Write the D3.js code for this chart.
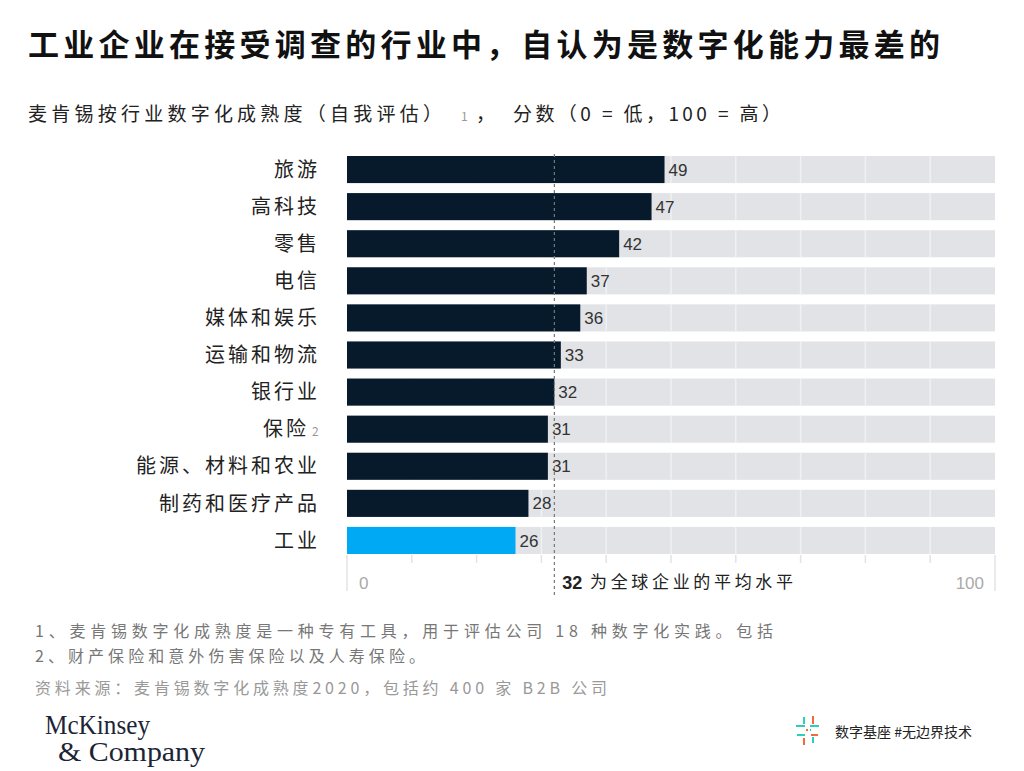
<!DOCTYPE html>
<html><head><meta charset="utf-8">
<script src="https://cdn.jsdelivr.net/npm/d3@7"></script>
<style>
body{margin:0;background:#fff;}
svg{display:block;font-family:"Noto Sans CJK SC","Noto Sans",sans-serif;}
</style></head>
<body><svg id="c" width="1024" height="771"></svg>
<script>
const categories = ["旅游","高科技","零售","电信","媒体和娱乐","运输和物流","银行业","保险","能源、材料和农业","制药和医疗产品","工业"];
const values = [49,47,42,37,36,33,32,31,31,28,26];
const highlight = "工业";
const average = 32;
const axisTicks = [0,100];
const gridTicks = [10,20,30,40,50,60,70,80,90];

const svg = d3.select("#c");
const x = d3.scaleLinear().domain([0,100]).range([347,995]);
const y = d3.scaleBand().domain(categories).range([151,559]).paddingInner(0.27).paddingOuter(0.135);

// Title
svg.append("text").attr("x",28).attr("y",56).attr("font-size",31).attr("font-weight",700).attr("fill","#111")
  .attr("textLength",912).attr("lengthAdjust","spacing")
  .text("工业企业在接受调查的行业中，自认为是数字化能力最差的");

// Subtitle
const st = svg.append("g").attr("font-size",19).attr("fill","#222");
st.append("text").attr("x",28).attr("y",121).attr("textLength",414).attr("lengthAdjust","spacing").text("麦肯锡按行业数字化成熟度（自我评估）");
st.append("text").attr("x",461).attr("y",121).attr("font-size",12).attr("fill","#999").text("1");
st.append("text").attr("x",476).attr("y",121).text("，");
st.append("text").attr("x",513).attr("y",121).attr("textLength",268).attr("lengthAdjust","spacing").text("分数（0 = 低，100 = 高）");

// background bars
svg.append("g").selectAll("rect").data(categories).join("rect")
  .attr("x",x(0)).attr("y",d=>y(d)).attr("width",x(100)-x(0)).attr("height",y.bandwidth())
  .attr("fill","#e1e3e6");

// white gridlines inside background bars
svg.append("g").selectAll("line").data(categories.flatMap(c=>gridTicks.map(t=>({c,t})))).join("line")
  .attr("x1",d=>x(d.t)).attr("x2",d=>x(d.t)).attr("y1",d=>y(d.c)).attr("y2",d=>y(d.c)+y.bandwidth())
  .attr("stroke","#f0f1f2").attr("stroke-width",1.5);

// axis ticks below
const axisTop = y(categories[categories.length-1])+y.bandwidth()+1;
svg.append("g").selectAll("line").data(gridTicks).join("line")
  .attr("x1",d=>x(d)).attr("x2",d=>x(d)).attr("y1",axisTop).attr("y2",axisTop+8)
  .attr("stroke","#e1e3e6").attr("stroke-width",1.5);
svg.append("g").selectAll("line").data(axisTicks).join("line")
  .attr("x1",d=>x(d)).attr("x2",d=>x(d)).attr("y1",axisTop).attr("y2",axisTop+36)
  .attr("stroke","#e1e3e6").attr("stroke-width",1.5);

// value bars
const rows = categories.map((c,i)=>({c,v:values[i]}));
svg.append("g").selectAll("rect").data(rows).join("rect")
  .attr("x",x(0)).attr("y",d=>y(d.c)).attr("width",d=>x(d.v)-x(0)).attr("height",y.bandwidth())
  .attr("fill",d=>d.c===highlight?"#00a9f4":"#061a2b");

// value labels
svg.append("g").selectAll("text").data(rows).join("text")
  .attr("x",d=>x(d.v)+4).attr("y",d=>y(d.c)+y.bandwidth()/2).attr("dy","0.36em")
  .attr("font-family","Liberation Sans, Arial, sans-serif").attr("font-size",17).attr("fill","#333")
  .text(d=>d.v);

// category labels
svg.append("g").selectAll("text").data(categories).join("text")
  .attr("x",d=>d==="保险"?309:320).attr("y",d=>y(d)+y.bandwidth()/2).attr("dy","0.36em")
  .attr("text-anchor","end").attr("font-size",20).attr("letter-spacing",3).attr("fill","#222")
  .text(d=>d);
svg.append("text").attr("x",312).attr("y",y("保险")+y.bandwidth()/2).attr("dy","0.6em")
  .attr("font-size",12).attr("fill","#999").text("2");

// average dashed line
svg.append("line").attr("x1",x(average)).attr("x2",x(average)).attr("y1",154).attr("y2",596)
  .attr("stroke","#777").attr("stroke-width",1.2).attr("stroke-dasharray","3,3");

// axis labels
svg.append("text").attr("x",x(0)+12).attr("y",589).attr("font-family","Liberation Sans, Arial, sans-serif")
  .attr("font-size",17).attr("fill","#aaa").text(axisTicks[0]);
svg.append("text").attr("x",x(100)-11).attr("y",589).attr("text-anchor","end").attr("font-family","Liberation Sans, Arial, sans-serif")
  .attr("font-size",17).attr("fill","#aaa").text(axisTicks[1]);
svg.append("text").attr("x",x(average)+8).attr("y",589).attr("font-family","Liberation Sans, Arial, sans-serif")
  .attr("font-size",18).attr("font-weight",700).attr("fill","#222").text(average);
svg.append("text").attr("x",590).attr("y",588).attr("font-size",17).attr("fill","#222")
  .attr("textLength",203).attr("lengthAdjust","spacing").text("为全球企业的平均水平");

// footnotes
const fn = svg.append("g").attr("font-size",16).attr("fill","#777");
fn.append("text").attr("x",35).attr("y",637).attr("textLength",738).attr("lengthAdjust","spacing")
  .text("1、麦肯锡数字化成熟度是一种专有工具，用于评估公司 18 种数字化实践。包括");
fn.append("text").attr("x",35).attr("y",662).attr("textLength",390).attr("lengthAdjust","spacing")
  .text("2、财产保险和意外伤害保险以及人寿保险。");
fn.append("text").attr("x",35).attr("y",694).attr("fill","#999").attr("textLength",572).attr("lengthAdjust","spacing")
  .text("资料来源：麦肯锡数字化成熟度2020，包括约 400 家 B2B 公司");

// McKinsey logo
const lg = svg.append("g").attr("font-family","Liberation Serif, DejaVu Serif, serif").attr("fill","#1b2536").attr("font-size",27);
lg.append("text").attr("x",45).attr("y",734).attr("textLength",105).attr("lengthAdjust","spacingAndGlyphs").text("McKinsey");
lg.append("text").attr("x",58).attr("y",761).attr("textLength",147).attr("lengthAdjust","spacingAndGlyphs").text("& Company");

// bottom-right icon
const ic = svg.append("g");
const teal = "#2ad1b8", orange = "#f26b3a";
const segs = [
  [796,726,805,726,teal],[810,726,819,726,teal],
  [797,735,805,735,teal],[811,735,818,735,orange],
  [804,717,804,724,teal],[813,716,813,724,orange],
  [804,738,804,745,orange],[813,737,813,743,teal],
  [806,730,808,730,orange],[810,730,811,730,teal]
];
ic.selectAll("line").data(segs).join("line")
  .attr("x1",d=>d[0]).attr("y1",d=>d[1]).attr("x2",d=>d[2]).attr("y2",d=>d[3])
  .attr("stroke",d=>d[4]).attr("stroke-width",2);
svg.append("text").attr("x",835).attr("y",737).attr("font-size",14).attr("fill","#222").text("数字基座 #无边界技术");
</script></body></html>
